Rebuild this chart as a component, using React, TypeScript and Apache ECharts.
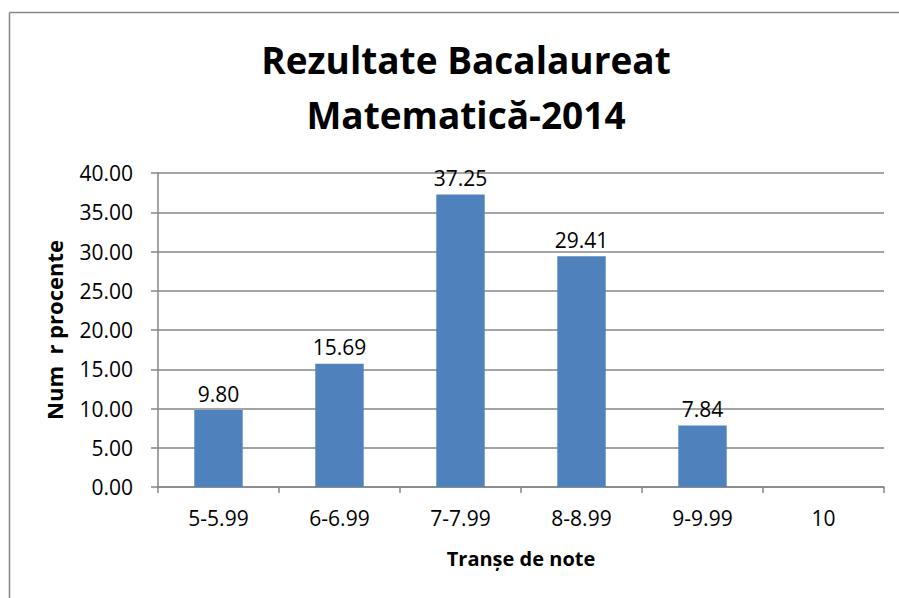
import React, { useEffect, useRef } from "react";
import * as echarts from "echarts";

const categories = ["5-5.99", "6-6.99", "7-7.99", "8-8.99", "9-9.99", "10"];
const values = [9.8, 15.69, 37.25, 29.41, 7.84, 0];
const titleText = "Rezultate Bacalaureat\nMatematică-2014";
const yName = "Num  r procente";
const xName = "Tranșe de note";

const FONT = "'Open Sans', Lato, sans-serif";
const GRAY = "#868686";

export default function App() {
  const ref = useRef<HTMLDivElement>(null);
  useEffect(() => {
    if (!ref.current) return;
    const chart = echarts.init(ref.current, undefined, { renderer: "svg" });
    chart.setOption({
      animation: false,
      backgroundColor: "#ffffff",
      title: {
        text: titleText,
        left: 461,
        top: 27,
        textAlign: "center",
        textStyle: {
          fontFamily: FONT,
          fontWeight: "bold",
          fontSize: 37,
          lineHeight: 55,
          color: "#000000",
        },
      },
      graphic: [
        { type: "line", shape: { x1: 9.5, y1: 12.5, x2: 899, y2: 12.5 }, style: { stroke: GRAY, lineWidth: 1.5 } },
        { type: "line", shape: { x1: 9.5, y1: 12.5, x2: 9.5, y2: 598 }, style: { stroke: GRAY, lineWidth: 1.5 } },
      ],
      grid: { left: 158, top: 173, right: 15, bottom: 111, containLabel: false },
      xAxis: {
        type: "category",
        data: categories,
        boundaryGap: true,
        name: xName,
        nameLocation: "middle",
        nameGap: 61,
        nameTextStyle: { fontFamily: FONT, fontWeight: "bold", fontSize: 20, color: "#000" },
        axisLine: { show: true, lineStyle: { color: GRAY, width: 1.5 } },
        axisTick: { show: true, length: 6, alignWithLabel: false, lineStyle: { color: GRAY, width: 1.5 } },
        axisLabel: { fontFamily: FONT, fontSize: 21, color: "#000", margin: 20 },
      },
      yAxis: {
        type: "value",
        min: 0,
        max: 40,
        interval: 5,
        name: yName,
        nameLocation: "middle",
        nameGap: 93,
        nameTextStyle: { fontFamily: FONT, fontWeight: "bold", fontSize: 22, color: "#000" },
        axisLine: { show: true, lineStyle: { color: GRAY, width: 1.5 } },
        axisTick: { show: true, length: 7, lineStyle: { color: GRAY, width: 1.5 } },
        axisLabel: {
          fontFamily: FONT,
          fontSize: 21,
          color: "#000",
          margin: 25,
          formatter: (v: number) => v.toFixed(2),
        },
        splitLine: { show: true, lineStyle: { color: GRAY, width: 1.5 } },
      },
      series: [
        {
          type: "bar",
          data: values,
          barWidth: "40%",
          itemStyle: { color: "#4F81BD" },
          label: {
            show: true,
            position: "top",
            distance: 6,
            fontFamily: FONT,
            fontSize: 21,
            color: "#000",
            formatter: (p: any) => (p.value > 0 ? Number(p.value).toFixed(2) : ""),
          },
        },
      ],
    });
    return () => chart.dispose();
  }, []);
  return <div ref={ref} style={{ width: 899, height: 598, position: "absolute", left: 0, top: 0 }} />;
}
